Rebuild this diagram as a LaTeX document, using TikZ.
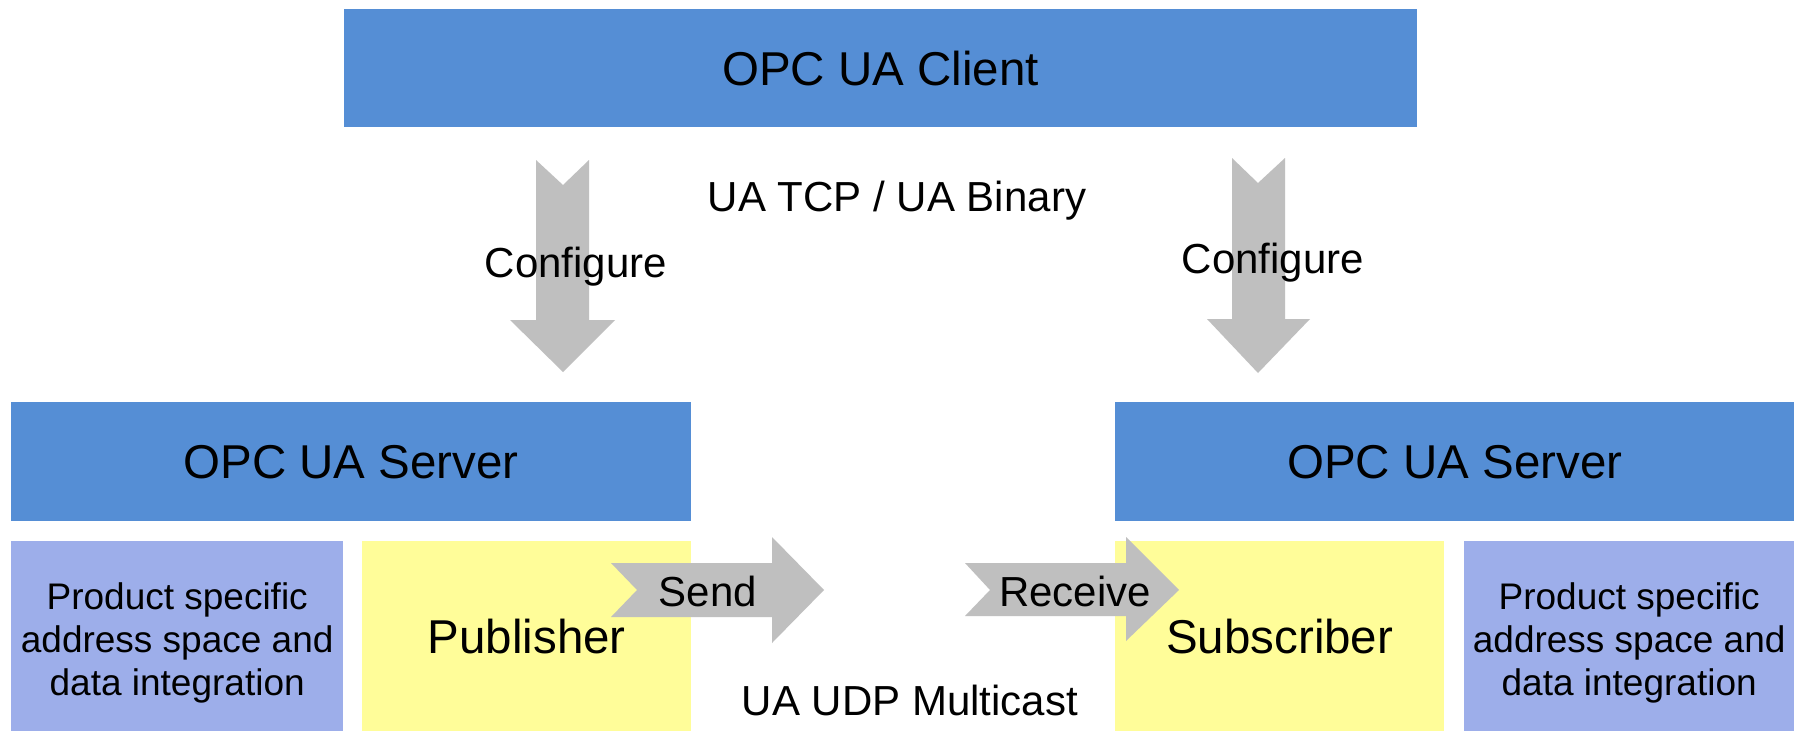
\documentclass[tikz,border=0pt]{standalone}
\usepackage{fontspec}
\setmainfont{Liberation Sans}
\definecolor{boxblue}{HTML}{558ED5}
\definecolor{boxpurple}{HTML}{9DAEEA}
\definecolor{boxyellow}{HTML}{FFFD99}
\definecolor{arrowgray}{HTML}{BFBFBF}
\begin{document}
\begin{tikzpicture}[x=1pt,y=-1pt,
  bigbox/.style={fill=boxblue, draw=none, anchor=north west, inner sep=0pt,
    font=\fontsize{47.5}{57}\selectfont},
  purplebox/.style={fill=boxpurple, draw=none, anchor=north west, inner sep=0pt},
  prodtext/.style={inner sep=0pt, align=center, font=\fontsize{37}{43}\selectfont},
  yellowbox/.style={fill=boxyellow, draw=none, anchor=north west, inner sep=0pt,
    font=\fontsize{47.5}{57}\selectfont},
  blockarrow/.style={fill=arrowgray, draw=none},
  lbl/.style={anchor=base, inner sep=0pt, font=\fontsize{42}{50}\selectfont}]
\useasboundingbox (0,0) rectangle (1800,731);
\fill[white] (0,0) rectangle (1800,731);

% boxes
\node[bigbox, minimum width=1073pt, minimum height=118pt] (client) at (344,9) {OPC UA Client};
\node[bigbox, minimum width=680pt, minimum height=119pt] (serverL) at (11,402) {OPC UA Server};
\node[bigbox, minimum width=679pt, minimum height=119pt] (serverR) at (1115,402) {OPC UA Server};
\node[purplebox, minimum width=332pt, minimum height=190pt] (prodL) at (11,541) {};
\node[prodtext] (prodLtxt) at ([yshift=-7pt]prodL.center)
  {Product specific\\address space and\\data integration};
\node[yellowbox, minimum width=329pt, minimum height=190pt] (pub) at (362,541) {Publisher};
\node[yellowbox, minimum width=329pt, minimum height=190pt] (sub) at (1115,541) {Subscriber};
\node[purplebox, minimum width=330pt, minimum height=190pt] (prodR) at (1464,541) {};
\node[prodtext] (prodRtxt) at ([yshift=-7pt]prodR.center)
  {Product specific\\address space and\\data integration};

% down arrows
\fill[blockarrow] (536,160) -- (563,185) -- (589,160) -- (589,320) -- (615,320)
  -- (563,372) -- (510,320) -- (536,320) -- cycle;
\fill[blockarrow] (1232,158) -- (1258,183) -- (1285,158) -- (1285,319) -- (1310,319)
  -- (1258,373) -- (1207,319) -- (1232,319) -- cycle;

% send / receive arrows
\fill[blockarrow] (611,563) -- (637,590) -- (611,617) -- (772,617) -- (772,643)
  -- (824,590) -- (772,537) -- (772,563) -- cycle;
\fill[blockarrow] (965,563) -- (990,590) -- (965,616) -- (1126,616) -- (1126,641)
  -- (1179,590) -- (1126,537) -- (1126,563) -- cycle;

% labels
\node[lbl] (cfgL) at (576,277) {Configure};
\node[lbl] (cfgR) at (1273,273) {Configure};
\node[lbl] (tcp) at (897,211) {UA TCP / UA Binary};
\node[lbl] (send) at (708,606) {Send};
\node[lbl] (recv) at (1075,606) {Receive};
\node[lbl] (udp) at (910,715) {UA UDP Multicast};
\end{tikzpicture}
\end{document}
